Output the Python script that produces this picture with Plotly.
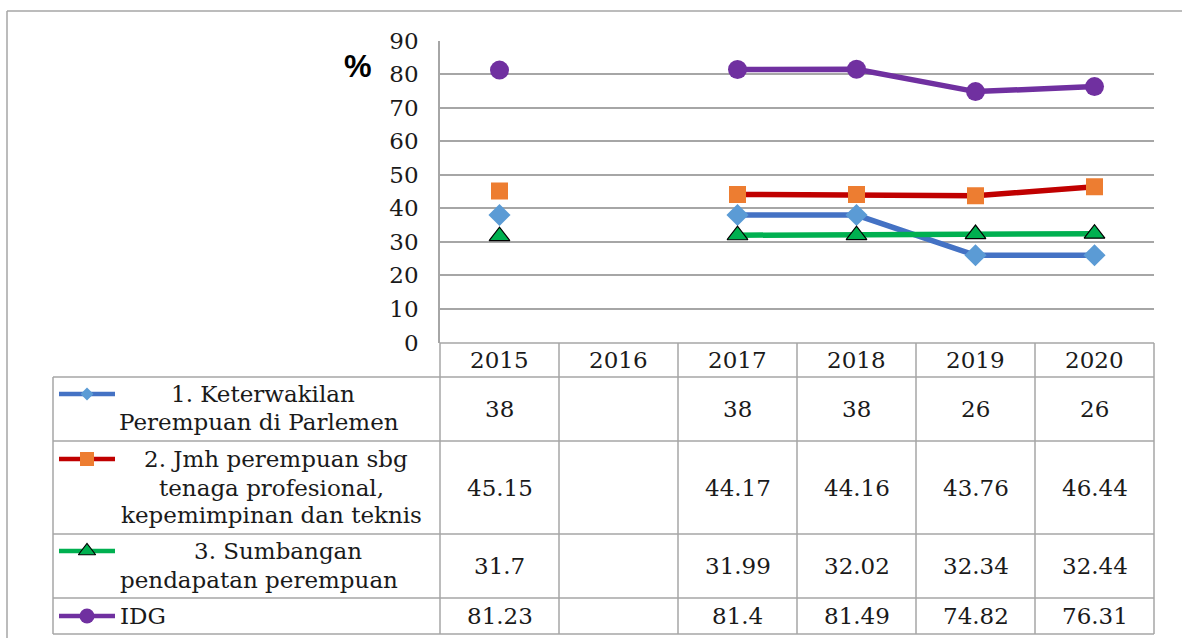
import plotly.graph_objects as go

# ---------------- data ----------------
years = ["2015", "2016", "2017", "2018", "2019", "2020"]
keterwakilan = [38, None, 38, 38, 26, 26]
tenaga_profesional = [45.15, None, 44.17, 44.16, 43.76, 46.44]
sumbangan_pendapatan = [31.7, None, 31.99, 32.02, 32.34, 32.44]
idg = [81.23, None, 81.4, 81.49, 74.82, 76.31]

label_keterwakilan = ["1. Keterwakilan", "Perempuan di Parlemen"]
label_tenaga = ["2. Jmh perempuan sbg", "tenaga profesional,", "kepemimpinan dan teknis"]
label_sumbangan = ["3. Sumbangan", "pendapatan perempuan"]
label_idg = ["IDG"]

y_ticks = [0, 10, 20, 30, 40, 50, 60, 70, 80, 90]
y_unit = "%"

# ---------------- style / geometry (pixels) ----------------
W, H = 1182, 638
PX_L, PX_R = 440, 1154
PY_T, PY_B = 40.7, 342.5
ROW_Y = [343, 377, 441, 534, 598, 634]
LAB_L = 53
GRID = "#a6a6a6"
TXT = "#1a1a1a"
SERIF = "DejaVu Serif"
FS = 23

series = [
    dict(vals=keterwakilan, label=label_keterwakilan, line="#4472C4", mcol="#5B9BD5",
         sym="diamond", msize=17, ksize=10, mline=0,
         lines_pos=[(263, 394), (259, 422)]),
    dict(vals=tenaga_profesional, label=label_tenaga, line="#C00000", mcol="#ED7D31",
         sym="square", msize=17, ksize=14, mline=0,
         lines_pos=[(276, 459), (271, 488), (271, 515)]),
    dict(vals=sumbangan_pendapatan, label=label_sumbangan, line="#00B050", mcol="#00B050",
         sym="triangle-up", msize=18, ksize=15, mline=1.2,
         lines_pos=[(278, 551), (259, 580)]),
    dict(vals=idg, label=label_idg, line="#7030A0", mcol="#7030A0",
         sym="circle", msize=19, ksize=15, mline=0,
         lines_pos=[(118, 616)]),
]
KEY_Y = [394, 459, 551, 616]

fig = go.Figure()

# main line traces
for s in series:
    fig.add_trace(go.Scatter(
        x=years, y=s["vals"], mode="lines+markers", connectgaps=False,
        line=dict(color=s["line"], width=5.5),
        marker=dict(symbol=s["sym"], size=s["msize"], color=s["mcol"],
                    line=dict(color="black", width=s["mline"])),
        showlegend=False, hoverinfo="x+y",
        xaxis="x", yaxis="y",
    ))

# legend keys in the data table (pixel overlay axes)
for s, ky in zip(series, KEY_Y):
    fig.add_trace(go.Scatter(
        x=[59, 115], y=[ky, ky], mode="lines",
        line=dict(color=s["line"], width=4.5), showlegend=False,
        hoverinfo="skip", xaxis="x2", yaxis="y2",
    ))
    fig.add_trace(go.Scatter(
        x=[87], y=[ky], mode="markers",
        marker=dict(symbol=s["sym"], size=s["ksize"], color=s["mcol"],
                    line=dict(color="black", width=s["mline"])),
        showlegend=False, hoverinfo="skip", xaxis="x2", yaxis="y2",
    ))

shapes = []
def hline(x0, x1, y, color=GRID, w=1.5):
    shapes.append(dict(type="line", xref="x2", yref="y2", x0=x0, x1=x1, y0=y, y1=y,
                       line=dict(color=color, width=w), layer="below"))
def vline(x, y0, y1, color=GRID, w=1.5):
    shapes.append(dict(type="line", xref="x2", yref="y2", x0=x, x1=x, y0=y0, y1=y1,
                       line=dict(color=color, width=w), layer="below"))

# outer chart border
hline(7, W, 11)
vline(7, 11, H)

# table grid
ncol = len(years)
colw = (PX_R - PX_L) / ncol
for r in ROW_Y[1:]:
    hline(LAB_L, PX_R, r)
hline(PX_L, PX_R, ROW_Y[0])
vline(LAB_L, ROW_Y[1], ROW_Y[-1])
for i in range(ncol + 1):
    vline(PX_L + i * colw, ROW_Y[0], ROW_Y[-1])

annotations = []
# header years
for i, yr in enumerate(years):
    annotations.append(dict(xref="x2", yref="y2", x=PX_L + (i + 0.5) * colw,
                            y=(ROW_Y[0] + ROW_Y[1]) / 2, text=yr, showarrow=False,
                            xanchor="center", yanchor="middle",
                            font=dict(family=SERIF, size=FS, color=TXT)))
# values
for r, s in enumerate(series):
    yc = (ROW_Y[r + 1] + ROW_Y[r + 2]) / 2
    for i, v in enumerate(s["vals"]):
        if v is None:
            continue
        annotations.append(dict(xref="x2", yref="y2", x=PX_L + (i + 0.5) * colw, y=yc,
                                text=f"{v:g}", showarrow=False, xanchor="center",
                                yanchor="middle",
                                font=dict(family=SERIF, size=FS, color=TXT)))
    # row labels
    for j, (txt, (lx, ly)) in enumerate(zip(s["label"], s["lines_pos"])):
        left = s["label"] is label_idg
        annotations.append(dict(xref="x2", yref="y2", x=lx, y=ly, text=txt,
                                showarrow=False,
                                xanchor="left" if left else "center", yanchor="middle",
                                font=dict(family=SERIF, size=FS, color=TXT)))

# unit label
annotations.append(dict(xref="x2", yref="y2", x=358, y=66, text=f"<b>{y_unit}</b>",
                        showarrow=False, xanchor="center", yanchor="middle",
                        font=dict(family="Liberation Sans", size=31, color="black")))

fig.update_layout(
    width=W, height=H, autosize=False,
    margin=dict(l=0, r=0, t=0, b=0, pad=0, autoexpand=False),
    paper_bgcolor="white", plot_bgcolor="rgba(0,0,0,0)",
    shapes=shapes, annotations=annotations,
    xaxis=dict(type="category", range=[-0.5, ncol - 0.5],
               domain=[PX_L / W, PX_R / W], anchor="y",
               showgrid=False, showticklabels=False, zeroline=False, showline=False,
               fixedrange=True),
    yaxis=dict(range=[0, 90], domain=[1 - PY_B / H, 1 - PY_T / H], anchor="x",
               tickvals=y_ticks, showgrid=True, gridcolor=GRID, gridwidth=1.5,
               zeroline=False, showline=True, linecolor=GRID, linewidth=1.5,
               ticks="", ticklabelstandoff=15,
               tickfont=dict(family=SERIF, size=FS, color=TXT), fixedrange=True),
    xaxis2=dict(range=[0, W], domain=[0, 1], anchor="y2", visible=False, fixedrange=True),
    yaxis2=dict(range=[H, 0], domain=[0, 1], anchor="x2", visible=False, fixedrange=True),
)

fig.write_html(
    "out.html",
    config={"displayModeBar": False},
    post_script="document.body.style.margin='0';document.body.style.overflow='hidden';",
)
